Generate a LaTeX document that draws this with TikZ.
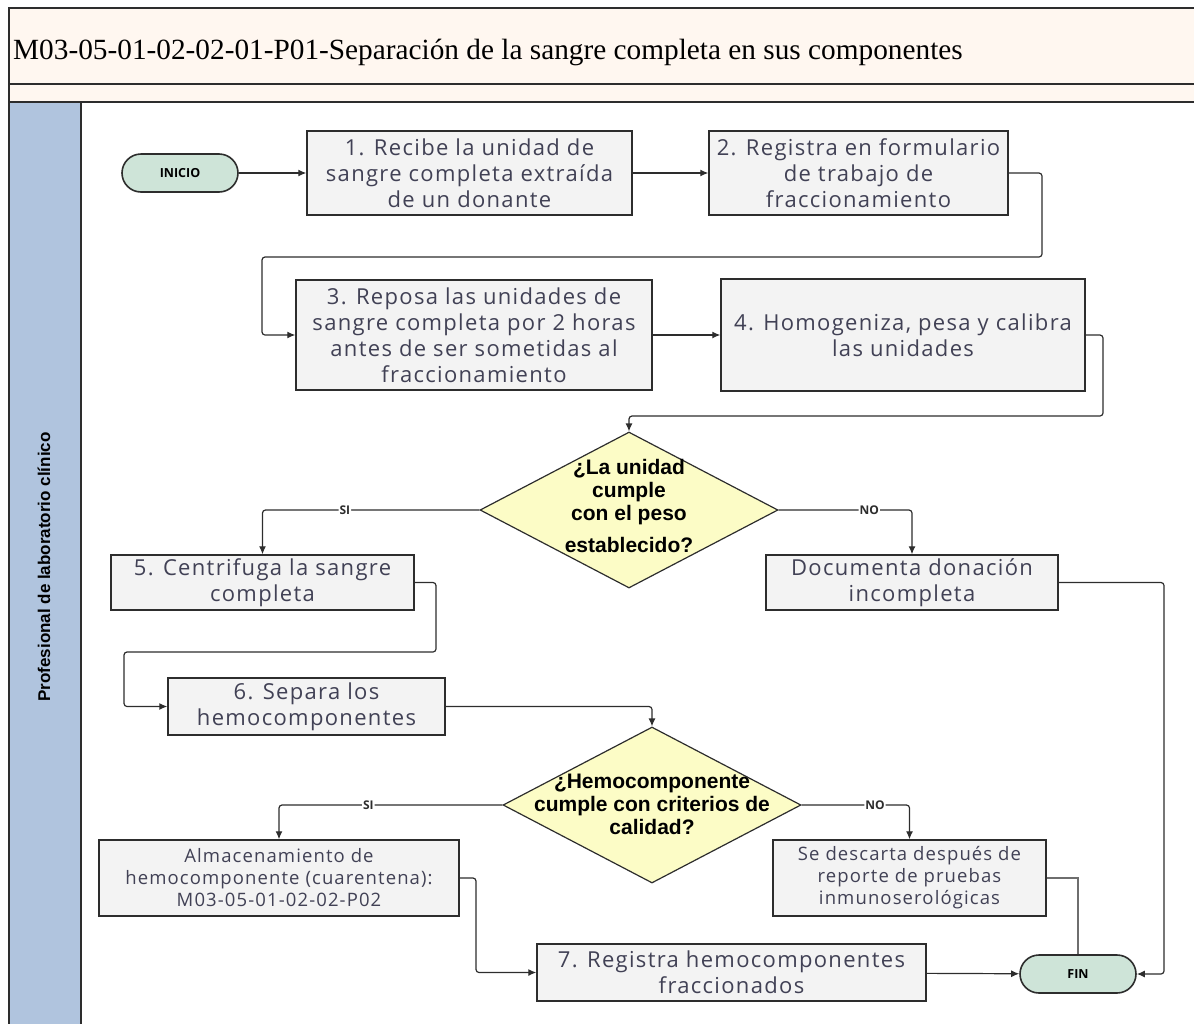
\documentclass[tikz,border=0pt]{standalone}
\usepackage{fontspec}
\setmainfont{Liberation Serif}
\newfontfamily\stepfont[LetterSpace=6]{Open Sans}
\newfontfamily\termfont{Open Sans}
\newfontfamily\condfont{Liberation Sans}
\usetikzlibrary{shapes.geometric,arrows.meta,positioning,calc}
\definecolor{headcream}{RGB}{255,247,240}
\definecolor{lanesteel}{RGB}{176,196,222}
\definecolor{boxgray}{RGB}{243,243,243}
\definecolor{edgedark}{RGB}{45,45,45}
\definecolor{txtgray}{RGB}{65,65,85}
\definecolor{termgreen}{RGB}{206,228,216}
\definecolor{decyellow}{RGB}{252,252,198}
\definecolor{linegray}{RGB}{110,110,110}
\tikzset{
  basebox/.style={rectangle,draw=edgedark,line width=1.4pt,fill=boxgray,align=center,text=txtgray,inner sep=2pt},
  stepnode/.style={basebox,font=\stepfont\fontsize{22}{26}\selectfont},
  notenode/.style={basebox,font=\stepfont\fontsize{18.5}{22}\selectfont},
  termnode/.style={rectangle,rounded corners=19pt,draw=edgedark,line width=1.6pt,fill=termgreen,minimum width=116pt,minimum height=38pt,font=\termfont\bfseries\fontsize{12.5}{14}\selectfont},
  decnode/.style={diamond,draw=edgedark,line width=1.2pt,fill=decyellow,minimum width=298pt,minimum height=156pt,inner sep=0pt},
  dectext/.style={align=center,inner sep=0pt,font=\condfont\bfseries\fontsize{21}{23}\selectfont},
  lbl/.style={fill=white,inner sep=1pt,font=\termfont\bfseries\fontsize{12}{12}\selectfont},
  arr/.style={-{Latex[length=8pt,width=7pt]},line width=1.2pt,color=edgedark,rounded corners=3pt},
  thinline/.style={line width=1.2pt,color=linegray}
}
\begin{document}
\begin{tikzpicture}[x=1pt,y=-1pt]
  \useasboundingbox (0,0) rectangle (1194,1023);
  \clip (0,0) rectangle (1194,1023);
  % pool and lane
  \draw[edgedark,line width=1.4pt,fill=headcream] (9,8) rectangle (1210,84);
  \draw[edgedark,line width=1.4pt,fill=headcream] (9,84) rectangle (1210,102);
  \draw[edgedark,line width=1.4pt,fill=lanesteel] (9,102) rectangle (81,1040);
  \node[anchor=west,inner sep=0pt,font=\fontsize{29.3}{32}\selectfont] (title) at (13,52)
    {M03-05-01-02-02-01-P01-Separación de la sangre completa en sus componentes};
  \node[rotate=90,inner sep=0pt,font=\condfont\bfseries\fontsize{17}{17}\selectfont] (lane) at (44,567)
    {Profesional de laboratorio clínico};

  % steps
  \node[termnode] (inicio) at (180,173) {INICIO};
  \node[stepnode,minimum width=325pt,minimum height=84pt] (p1) at (469.5,173)
    {1. Recibe la unidad de\\sangre completa extraída\\de un donante};
  \node[stepnode,minimum width=299pt,minimum height=84pt] (p2) at (858.5,173)
    {2. Registra en formulario\\de trabajo de\\fraccionamiento};
  \node[stepnode,minimum width=356pt,minimum height=110pt] (p3) at (474,335)
    {3. Reposa las unidades de\\sangre completa por 2 horas\\antes de ser sometidas al\\fraccionamiento};
  \node[stepnode,minimum width=364pt,minimum height=112pt] (p4) at (903,335)
    {4. Homogeniza, pesa y calibra\\las unidades};
  \node[decnode] (d1) at (629,510) {};
  \node[dectext] (d1t) at (629,506) {¿La unidad\\cumple\\con el peso\\[9pt]establecido?};
  \node[stepnode,minimum width=303pt,minimum height=55pt] (p5) at (262.5,582.5)
    {5. Centrifuga la sangre\\completa};
  \node[stepnode,minimum width=292pt,minimum height=55pt] (doc) at (912,582.5)
    {Documenta donación\\incompleta};
  \node[stepnode,minimum width=277pt,minimum height=57pt] (p6) at (306.5,706.5)
    {6. Separa los\\hemocomponentes};
  \node[decnode] (d2) at (652,805) {};
  \node[dectext] (d2t) at (652,804) {¿Hemocomponente\\cumple con criterios de\\calidad?};
  \node[notenode,minimum width=360pt,minimum height=76pt] (alm) at (279,878)
    {Almacenamiento de\\hemocomponente (cuarentena):\\M03-05-01-02-02-P02};
  \node[notenode,minimum width=273pt,minimum height=76pt] (desc) at (909.5,878)
    {Se descarta después de\\reporte de pruebas\\inmunoserológicas};
  \node[stepnode,minimum width=389pt,minimum height=57pt] (p7) at (731.5,972.5)
    {7. Registra hemocomponentes\\fraccionados};
  \node[termnode] (fin) at (1078,974) {FIN};

  % bends
  \coordinate (b2a) at (1042,257);
  \coordinate (b2b) at (262,335);
  \coordinate (b4a) at (1103,416);
  \coordinate (b5a) at (436,652);
  \coordinate (b5b) at (124,706.5);
  \coordinate (bdoc) at (1164,974);
  \coordinate (balm) at (476,972.5);

  % connectors
  \draw[arr] (inicio) -- (p1);
  \draw[arr] (p1) -- (p2);
  \draw[arr] (p2.east) -| (b2a) -| (b2b) -- (p3.west);
  \draw[arr] (p3) -- (p4);
  \draw[arr] (p4.east) -| (b4a) -| (d1.north);
  \draw[arr] (d1.west) -| node[lbl,pos=0.31] {SI} (p5.north);
  \draw[arr] (d1.east) -| node[lbl,pos=0.34] {NO} (doc.north);
  \draw[arr] (doc.east) -| (bdoc) -- (fin.east);
  \draw[arr] (p5.east) -| (b5a) -| (b5b) -- (p6.west);
  \draw[arr] (p6.east) -| (d2.north);
  \draw[arr] (d2.west) -| node[lbl,pos=0.3] {SI} (alm.north);
  \draw[arr] (d2.east) -| node[lbl,pos=0.34] {NO} (desc.north);
  \draw[arr] (alm.east) -| (balm) -- (p7.west);
  \draw[thinline] (desc.east) -| (fin.north);
  \draw[arr] (p7) -- (fin);
\end{tikzpicture}
\end{document}
